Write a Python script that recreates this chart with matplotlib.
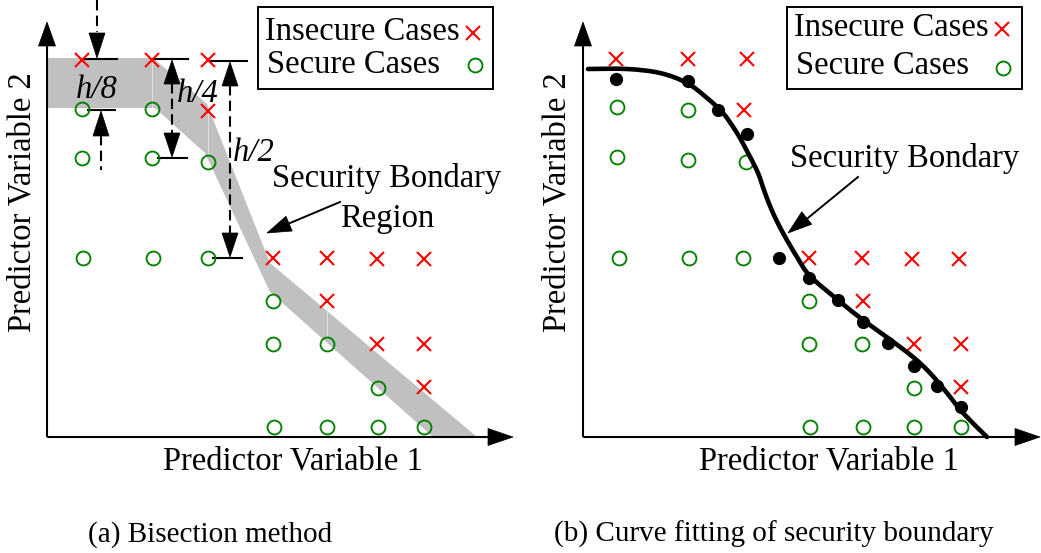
import matplotlib
matplotlib.use('Agg')
import matplotlib.pyplot as plt
from matplotlib.patches import Polygon, Rectangle, PathPatch
from matplotlib.path import Path
import numpy as np

plt.rcParams['font.family'] = ['Liberation Serif', 'DejaVu Serif']

# ---------------- data (panel-local units: origin at the axis corner) ----------------
# Panel (a) Bisection method
a_insecure_x = [35, 105, 161, 161, 226, 280, 330, 377, 280, 330, 377, 377]
a_insecure_y = [377, 377, 377, 326, 179, 179, 178, 178, 136, 93, 93, 50]
a_secure_x = [35, 105, 35, 105, 161, 36, 106, 161, 226, 226, 280, 331, 227, 280, 331, 377]
a_secure_y = [328, 328, 279, 279, 275, 179, 179, 179, 136, 93, 93, 49, 10, 10, 10, 10]
band_upper_x = [0, 106, 160, 223, 430]
band_upper_y = [379, 379, 333, 174, 0]
band_lower_x = [0, 108, 158, 223, 386]
band_lower_y = [329, 329, 284, 145, 0]
band_div_x = [105, 161, 280]
band_div_y0 = [378, 332, 132]
band_div_y1 = [330, 283, 100]
dim_labels = ['h/8', 'h/4', 'h/2']

# Panel (b) Curve fitting
b_insecure_x = [33, 105, 164, 161, 226, 279, 329, 376, 280, 331, 378, 378]
b_insecure_y = [378, 378, 378, 327, 179, 179, 178, 178, 136, 93, 93, 50]
b_secure_x = [34, 105, 34, 105, 163, 36, 106, 160, 226, 226, 279, 331, 227, 280, 331, 378]
b_secure_y = [330, 327, 280, 277, 275, 179, 179, 179, 136, 93, 93, 49, 10, 10, 10, 10]
b_boundary_x = [33, 105, 135, 164, 196, 226, 255, 280, 305, 331, 354, 378]
b_boundary_y = [358, 356, 327, 303, 179, 159, 137, 115, 94, 71, 51, 30]
b_curve_x = [5, 44, 77, 104, 124, 140, 154, 165, 175, 182, 190, 200, 214, 227,
             255, 280, 305, 330, 347, 364, 380, 404]
b_curve_y = [368, 368, 364, 354, 339, 324, 304, 284, 264, 244, 224, 204, 180, 161,
             137, 117, 99, 80, 64, 44, 24, 0]

legend_labels = ['Insecure Cases', 'Secure Cases']
axis_labels = ['Predictor Variable 1', 'Predictor Variable 2']
captions = ['(a) Bisection method', '(b) Curve fitting of security boundary']

# ---------------- figure ----------------
W, H = 1041, 553
fig = plt.figure(figsize=(W / 100, H / 100), dpi=100)

RED = '#ff0000'
GREEN = '#008000'
GRAY = '#c0c0c0'
FS = 23.5
CAP_FS = 21
X_MS, X_MEW = 9.5, 1.5
O_MS, O_MEW = 10, 1.35


def make_axes(left_px, width_px, ox, oy):
    ax = fig.add_axes([left_px / W, 0, width_px / W, 1])
    ax.set_xlim(left_px - ox, left_px + width_px - ox)
    ax.set_ylim(-(H - oy), oy)
    ax.axis('off')
    return ax


def head(ax, tip, direction, length=24, width=16, color='k'):
    d = np.array(direction, float)
    d /= np.hypot(*d)
    nrm = np.array([-d[1], d[0]])
    tip = np.array(tip, float)
    base = tip - d * length
    pts = [tip, base + nrm * width / 2, base - nrm * width / 2]
    ax.add_patch(Polygon(pts, closed=True, fc=color, ec=color, lw=0.5,
                         clip_on=False, zorder=5))


def draw_axes(ax, xtip, ytip):
    ax.plot([0, 0], [0, ytip - 20], color='k', lw=1.5, solid_capstyle='butt', clip_on=False)
    ax.plot([0, xtip - 20], [0, 0], color='k', lw=1.5, solid_capstyle='butt', clip_on=False)
    head(ax, (0, ytip), (0, 1), length=24, width=17)
    head(ax, (xtip, 0), (1, 0), length=25, width=17)


def legend_box(ax, x0, y0, x1, y1, ty1, ty2, mk1, mk2):
    ax.add_patch(Rectangle((x0, y0), x1 - x0, y1 - y0, fc='white', ec='k', lw=1.4,
                           clip_on=False, zorder=4))
    ax.text(x0 + 7, ty1, legend_labels[0], fontsize=FS, ha='left', va='baseline', zorder=6)
    ax.text(x0 + 9, ty2, legend_labels[1], fontsize=FS, ha='left', va='baseline', zorder=6)
    ax.plot([mk1[0]], [mk1[1]], 'x', color=RED, ms=X_MS, mew=X_MEW, zorder=6, clip_on=False)
    ax.plot([mk2[0]], [mk2[1]], 'o', mfc='none', mec=GREEN, ms=O_MS, mew=O_MEW, zorder=6,
            clip_on=False)


def smooth_path(xs, ys):
    P = np.column_stack([xs, ys]).astype(float)
    verts = [P[0]]
    codes = [Path.MOVETO]
    n = len(P)
    for i in range(n - 1):
        p0 = P[i - 1] if i > 0 else P[i]
        p1 = P[i]
        p2 = P[i + 1]
        p3 = P[i + 2] if i + 2 < n else P[i + 1]
        c1 = p1 + (p2 - p0) / 6.0
        c2 = p2 - (p3 - p1) / 6.0
        verts += [c1, c2, p2]
        codes += [Path.CURVE4] * 3
    return Path(verts, codes)


# ================= Panel (a) =================
axA = make_axes(0, 520, 47, 437)

band = list(zip(band_upper_x, band_upper_y)) + list(zip(band_lower_x, band_lower_y))[::-1]
axA.add_patch(Polygon(band, closed=True, fc=GRAY, ec='none', zorder=1))
for x, y0, y1 in zip(band_div_x, band_div_y0, band_div_y1):
    axA.plot([x, x], [y0, y1], color='#e6e6e6', lw=0.6, zorder=1.5)

draw_axes(axA, 466, 415)

axA.plot(a_insecure_x, a_insecure_y, 'x', color=RED, ms=X_MS, mew=X_MEW, ls='none', zorder=3)
axA.plot(a_secure_x, a_secure_y, 'o', mfc='none', mec=GREEN, ms=O_MS, mew=O_MEW, ls='none',
         zorder=3)

dash = (0, (5, 2.5))
# h/8
axA.plot([50, 50], [437, 405], color='k', lw=1.5, ls=dash, clip_on=False)
head(axA, (50, 379), (0, -1), length=25, width=16)
axA.plot([36, 70], [378, 378], color='k', lw=1.5)
axA.plot([41, 68], [327, 327], color='k', lw=1.5)
head(axA, (54, 326), (0, 1), length=25, width=16)
axA.plot([54, 54], [302, 267], color='k', lw=1.5, ls=dash)
axA.text(50, 339, dim_labels[0], fontsize=FS, style='italic', ha='center', va='baseline')
# h/4
axA.plot([106, 141], [378, 378], color='k', lw=1.5)
axA.plot([111, 140], [279, 279], color='k', lw=1.5)
axA.plot([125, 125], [354, 304], color='k', lw=1.5, ls=dash)
head(axA, (125, 377), (0, 1), length=24, width=16)
head(axA, (125, 280), (0, -1), length=24, width=16)
axA.text(151, 335, dim_labels[1], fontsize=FS, style='italic', ha='center', va='baseline')
# h/2
axA.plot([163, 200], [376, 376], color='k', lw=1.5)
axA.plot([166, 195], [179, 179], color='k', lw=1.5)
axA.plot([183, 183], [352, 203], color='k', lw=1.5, ls=dash)
head(axA, (183, 375), (0, 1), length=24, width=16)
head(axA, (183, 180), (0, -1), length=24, width=16)
axA.text(207, 276, dim_labels[2], fontsize=FS, style='italic', ha='center', va='baseline')

# region label + arrow
axA.text(340, 250, 'Security Bondary', fontsize=FS, ha='center', va='baseline')
axA.text(340, 210, 'Region', fontsize=FS, ha='center', va='baseline')
axA.plot([293, 236], [235, 211], color='k', lw=1.4)
head(axA, (220, 204), (-73, -31), length=24, width=16)

legend_box(axA, 211, 348, 446, 430, 397, 364, (426, 404), (428, 372))

axA.text(246, -33, axis_labels[0], fontsize=FS, ha='center', va='baseline')
axA.text(-25, 235, axis_labels[1], fontsize=FS, ha='center', va='center', rotation=90)
axA.text(163, -105, captions[0], fontsize=CAP_FS, ha='center', va='baseline')

# ================= Panel (b) =================
axB = make_axes(520, 521, 583, 437)
draw_axes(axB, 457, 415)

axB.plot(b_insecure_x, b_insecure_y, 'x', color=RED, ms=X_MS, mew=X_MEW, ls='none', zorder=3)
axB.plot(b_secure_x, b_secure_y, 'o', mfc='none', mec=GREEN, ms=O_MS, mew=O_MEW, ls='none',
         zorder=3)
axB.add_patch(PathPatch(smooth_path(b_curve_x, b_curve_y), fc='none', ec='k', lw=3.3,
                        capstyle='round', zorder=4))
axB.plot(b_boundary_x, b_boundary_y, 'o', color='k', ms=8.5, ls='none', zorder=5)

axB.text(322, 270, 'Security Bondary', fontsize=FS, ha='center', va='baseline')
axB.plot([275, 220], [260, 215], color='k', lw=1.4)
head(axB, (205, 204), (-70, -56), length=24, width=16)

legend_box(axB, 204, 348, 439, 430, 401, 363, (419, 408), (420, 369))

axB.text(246, -33, axis_labels[0], fontsize=FS, ha='center', va='baseline')
axB.text(-26, 235, axis_labels[1], fontsize=FS, ha='center', va='center', rotation=90)
axB.text(191, -105, captions[1], fontsize=CAP_FS, ha='center', va='baseline')

fig.savefig('out.png', dpi=100)
